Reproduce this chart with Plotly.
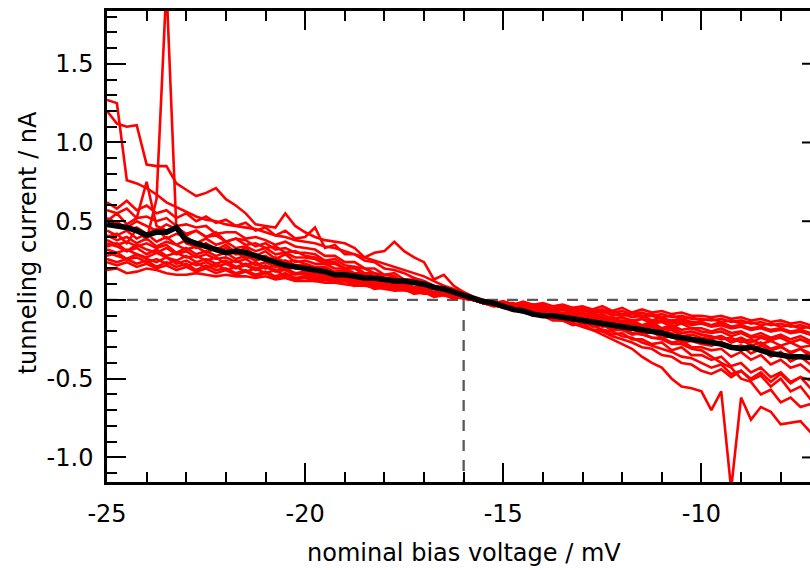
import plotly.graph_objects as go

# ---------------- data ----------------
X = [-25.0, -24.75, -24.5, -24.25, -24.0, -23.75, -23.5, -23.25, -23.0, -22.75,
     -22.5, -22.25, -22.0, -21.75, -21.5, -21.25, -21.0, -20.75, -20.5, -20.25,
     -20.0, -19.75, -19.5, -19.25, -19.0, -18.75, -18.5, -18.25, -18.0, -17.75,
     -17.5, -17.25, -17.0, -16.75, -16.5, -16.25, -16.0, -15.75, -15.5, -15.25,
     -15.0, -14.75, -14.5, -14.25, -14.0, -13.75, -13.5, -13.25, -13.0, -12.75,
     -12.5, -12.25, -12.0, -11.75, -11.5, -11.25, -11.0, -10.75, -10.5, -10.25,
     -10.0, -9.75, -9.5, -9.25, -9.0, -8.75, -8.5, -8.25, -8.0, -7.75,
     -7.5, -7.25, -7.0]

CURVE_A = [1.27, 1.25, 0.76, 0.74, 0.71, 0.67, 0.62, 0.59, 0.56, 0.53, 0.51, 0.50, 0.48, 0.47, 0.46, 0.45, 0.43, 0.41, 0.40, 0.38, 0.37,
           0.36, 0.34, 0.33, 0.31, 0.29, 0.27, 0.25, 0.23, 0.21, 0.19, 0.17, 0.15, 0.12, 0.09, 0.07, 0.05, 0.02,
           0.00, -0.01, -0.02, -0.02, -0.04, -0.03, -0.05, -0.04, -0.06, -0.05, -0.07, -0.06, -0.08, -0.07, -0.09, -0.08, -0.10, -0.09, -0.11, -0.10, -0.12, -0.11, -0.13,
           -0.12, -0.14, -0.13, -0.15, -0.14, -0.16, -0.15, -0.17, -0.16, -0.18, -0.17, -0.18]
CURVE_B = [1.20, 1.12, 1.10, 1.11, 0.86, 0.85, 0.85, 0.74, 0.70, 0.66, 0.68, 0.71, 0.64, 0.60, 0.55, 0.48, 0.47, 0.46, 0.55, 0.47, 0.43,
           0.40, 0.38, 0.37, 0.36, 0.33, 0.27, 0.30, 0.31, 0.37, 0.31, 0.27, 0.24, 0.13, 0.16, 0.09, 0.05, 0.02,
           -0.01, -0.03, -0.04, -0.06, -0.05, -0.08, -0.07, -0.09, -0.08, -0.10, -0.09, -0.11, -0.10, -0.12, -0.11, -0.13, -0.12, -0.14, -0.13, -0.15, -0.14, -0.16, -0.15,
           -0.17, -0.16, -0.18, -0.17, -0.19, -0.18, -0.20, -0.19, -0.21, -0.20, -0.22, -0.21]
CURVE_C = [0.62, 0.58, 0.63, 0.57, 0.60, 0.55, 0.57, 0.52, 0.55, 0.50, 0.53, 0.49, 0.51, 0.47, 0.49, 0.44, 0.46, 0.41, 0.44, 0.39, 0.40,
           0.46, 0.33, 0.35, 0.29, 0.29, 0.25, 0.24, 0.20, 0.19, 0.17, 0.14, 0.12, 0.09, 0.07, 0.05, 0.02, 0.00,
           -0.01, -0.02, -0.01, -0.03, -0.02, -0.04, -0.03, -0.05, -0.04, -0.06, -0.05, -0.07, -0.06, -0.08, -0.07, -0.09, -0.08, -0.10, -0.09, -0.11, -0.10, -0.12, -0.12,
           -0.13, -0.12, -0.14, -0.13, -0.15, -0.14, -0.16, -0.15, -0.17, -0.16, -0.18, -0.18]
CURVE_D = [0.57, 0.55, 0.58, 0.52, 0.53, 0.50, 0.52, 0.47, 0.48, 0.46, 0.47, 0.42, 0.43, 0.43, 0.39, 0.40, 0.38, 0.35, 0.37, 0.34, 0.33,
           0.32, 0.28, 0.28, 0.24, 0.24, 0.20, 0.20, 0.16, 0.17, 0.13, 0.13, 0.09, 0.09, 0.05, 0.05, 0.01, 0.00,
           -0.01, -0.03, -0.01, -0.03, -0.04, -0.03, -0.05, -0.04, -0.06, -0.07, -0.06, -0.08, -0.07, -0.09, -0.10, -0.09, -0.11, -0.10, -0.12, -0.13, -0.12, -0.14, -0.14,
           -0.16, -0.14, -0.17, -0.16, -0.19, -0.17, -0.20, -0.18, -0.21, -0.20, -0.22, -0.22]
CURVE_E = [0.52, 0.49, 0.46, 0.50, 0.47, 0.44, 0.48, 0.45, 0.41, 0.44, 0.40, 0.43, 0.37, 0.39, 0.38, 0.34, 0.36, 0.32, 0.33, 0.30, 0.30,
           0.29, 0.25, 0.26, 0.22, 0.21, 0.20, 0.17, 0.16, 0.15, 0.11, 0.12, 0.08, 0.07, 0.06, 0.03, 0.02, 0.00,
           -0.02, -0.01, -0.04, -0.03, -0.06, -0.05, -0.08, -0.06, -0.09, -0.11, -0.09, -0.12, -0.11, -0.14, -0.13, -0.15, -0.17, -0.15, -0.19, -0.17, -0.21, -0.20, -0.22,
           -0.23, -0.25, -0.24, -0.27, -0.25, -0.28, -0.26, -0.29, -0.27, -0.30, -0.29, -0.30]
CURVE_F = [0.47, 0.50, 0.44, 0.46, 0.42, 0.45, 0.39, 0.42, 0.40, 0.36, 0.39, 0.35, 0.37, 0.33, 0.34, 0.31, 0.33, 0.29, 0.30, 0.27, 0.27,
           0.26, 0.23, 0.23, 0.20, 0.20, 0.16, 0.17, 0.13, 0.14, 0.10, 0.11, 0.07, 0.07, 0.04, 0.04, 0.01, 0.00,
           0.00, -0.02, -0.01, -0.03, -0.01, -0.03, -0.02, -0.04, -0.03, -0.05, -0.04, -0.06, -0.04, -0.07, -0.05, -0.08, -0.06, -0.08, -0.07, -0.09, -0.08, -0.10, -0.10,
           -0.11, -0.10, -0.12, -0.11, -0.13, -0.12, -0.14, -0.13, -0.15, -0.14, -0.16, -0.16]
CURVE_G = [0.44, 0.41, 0.44, 0.39, 0.42, 0.37, 0.40, 0.35, 0.38, 0.33, 0.36, 0.32, 0.35, 0.30, 0.33, 0.28, 0.31, 0.26, 0.29, 0.24, 0.25,
           0.23, 0.23, 0.20, 0.20, 0.17, 0.17, 0.14, 0.14, 0.11, 0.11, 0.08, 0.08, 0.05, 0.05, 0.02, 0.02, 0.00,
           -0.02, -0.03, -0.03, -0.06, -0.06, -0.09, -0.08, -0.11, -0.11, -0.14, -0.13, -0.17, -0.16, -0.19, -0.19, -0.22, -0.21, -0.24, -0.24, -0.27, -0.26, -0.30, -0.30,
           -0.32, -0.31, -0.36, -0.33, -0.38, -0.35, -0.41, -0.38, -0.43, -0.41, -0.46, -0.45]
CURVE_H = [0.41, 0.38, 0.40, 0.36, 0.39, 0.34, 0.37, 0.35, 0.32, 0.34, 0.30, 0.33, 0.29, 0.31, 0.26, 0.29, 0.25, 0.27, 0.24, 0.25, 0.23,
           0.21, 0.21, 0.18, 0.19, 0.15, 0.16, 0.13, 0.13, 0.10, 0.11, 0.07, 0.08, 0.04, 0.05, 0.02, 0.02, 0.00,
           -0.01, -0.03, -0.02, -0.04, -0.03, -0.06, -0.05, -0.07, -0.06, -0.09, -0.08, -0.10, -0.09, -0.12, -0.11, -0.14, -0.12, -0.15, -0.14, -0.17, -0.15, -0.18, -0.18,
           -0.20, -0.18, -0.21, -0.20, -0.23, -0.21, -0.24, -0.22, -0.25, -0.23, -0.26, -0.25]
CURVE_I = [0.38, 0.35, 0.37, 0.34, 0.36, 0.33, 0.35, 0.30, 0.33, 0.29, 0.31, 0.28, 0.30, 0.26, 0.28, 0.25, 0.27, 0.23, 0.25, 0.22, 0.22,
           0.20, 0.20, 0.17, 0.18, 0.15, 0.15, 0.12, 0.13, 0.09, 0.10, 0.07, 0.07, 0.04, 0.05, 0.02, 0.02, 0.00,
           -0.02, -0.04, -0.04, -0.07, -0.07, -0.10, -0.10, -0.13, -0.13, -0.16, -0.15, -0.19, -0.19, -0.22, -0.21, -0.25, -0.25, -0.28, -0.27, -0.32, -0.30, -0.35, -0.35,
           -0.38, -0.36, -0.42, -0.40, -0.46, -0.43, -0.49, -0.46, -0.52, -0.49, -0.56, -0.55]
CURVE_J = [0.36, 0.34, 0.31, 0.35, 0.32, 0.30, 0.33, 0.29, 0.31, 0.27, 0.29, 0.26, 0.27, 0.24, 0.26, 0.22, 0.24, 0.21, 0.23, 0.20, 0.20,
           0.18, 0.18, 0.15, 0.16, 0.13, 0.14, 0.11, 0.12, 0.08, 0.09, 0.06, 0.07, 0.04, 0.05, 0.01, 0.02, 0.00,
           -0.01, -0.03, -0.02, -0.04, -0.05, -0.04, -0.07, -0.06, -0.09, -0.08, -0.11, -0.09, -0.12, -0.11, -0.14, -0.13, -0.16, -0.14, -0.18, -0.16, -0.19, -0.18, -0.20,
           -0.21, -0.20, -0.23, -0.21, -0.24, -0.23, -0.25, -0.24, -0.27, -0.25, -0.28, -0.28]
CURVE_K = [0.34, 0.36, 0.31, 0.33, 0.29, 0.32, 0.28, 0.30, 0.27, 0.28, 0.25, 0.27, 0.23, 0.25, 0.22, 0.24, 0.20, 0.22, 0.19, 0.21, 0.19,
           0.17, 0.18, 0.15, 0.16, 0.12, 0.13, 0.10, 0.11, 0.08, 0.09, 0.06, 0.07, 0.03, 0.04, 0.01, 0.02, 0.00,
           -0.02, -0.01, -0.04, -0.04, -0.07, -0.06, -0.09, -0.08, -0.11, -0.10, -0.13, -0.12, -0.16, -0.15, -0.18, -0.17, -0.20, -0.19, -0.22, -0.21, -0.25, -0.24, -0.26,
           -0.28, -0.27, -0.31, -0.29, -0.34, -0.31, -0.36, -0.33, -0.39, -0.36, -0.41, -0.40]
CURVE_L = [0.32, 0.30, 0.32, 0.29, 0.27, 0.30, 0.27, 0.25, 0.28, 0.24, 0.26, 0.23, 0.25, 0.21, 0.23, 0.20, 0.22, 0.19, 0.20, 0.17, 0.18,
           0.16, 0.17, 0.14, 0.15, 0.12, 0.13, 0.10, 0.11, 0.07, 0.08, 0.05, 0.06, 0.03, 0.04, 0.01, 0.02, 0.00,
           0.00, -0.02, -0.01, -0.04, -0.02, -0.05, -0.04, -0.06, -0.05, -0.08, -0.06, -0.09, -0.07, -0.10, -0.09, -0.11, -0.10, -0.13, -0.11, -0.14, -0.13, -0.15, -0.15,
           -0.16, -0.15, -0.17, -0.16, -0.18, -0.17, -0.19, -0.18, -0.20, -0.19, -0.21, -0.21]
CURVE_M = [0.30, 0.28, 0.26, 0.29, 0.26, 0.24, 0.27, 0.23, 0.25, 0.22, 0.24, 0.21, 0.23, 0.20, 0.22, 0.19, 0.21, 0.18, 0.19, 0.16, 0.17,
           0.15, 0.16, 0.13, 0.14, 0.11, 0.12, 0.09, 0.10, 0.07, 0.08, 0.05, 0.06, 0.03, 0.04, 0.02, 0.01, 0.00,
           -0.02, -0.03, -0.04, -0.06, -0.06, -0.08, -0.09, -0.10, -0.12, -0.12, -0.15, -0.16, -0.19, -0.20, -0.23, -0.24, -0.27, -0.29, -0.31, -0.33, -0.36, -0.37, -0.40,
           -0.43, -0.41, -0.47, -0.45, -0.51, -0.48, -0.55, -0.50, -0.58, -0.55, -0.63, -0.62]
CURVE_N = [0.28, 0.30, 0.26, 0.27, 0.24, 0.26, 0.23, 0.25, 0.21, 0.24, 0.20, 0.23, 0.19, 0.21, 0.18, 0.20, 0.17, 0.19, 0.15, 0.17, 0.16,
           0.14, 0.15, 0.12, 0.13, 0.10, 0.11, 0.08, 0.09, 0.07, 0.08, 0.05, 0.06, 0.03, 0.04, 0.01, 0.02, 0.00,
           -0.02, -0.01, -0.05, -0.04, -0.07, -0.06, -0.10, -0.08, -0.12, -0.11, -0.14, -0.13, -0.17, -0.15, -0.19, -0.18, -0.22, -0.20, -0.24, -0.23, -0.27, -0.26, -0.28,
           -0.29, -0.27, -0.30, -0.29, -0.31, -0.29, -0.32, -0.30, -0.33, -0.31, -0.34, -0.33]
CURVE_O = [0.26, 0.24, 0.26, 0.23, 0.25, 0.21, 0.24, 0.21, 0.23, 0.19, 0.22, 0.19, 0.20, 0.17, 0.19, 0.16, 0.18, 0.15, 0.17, 0.14, 0.15,
           0.13, 0.14, 0.11, 0.12, 0.10, 0.11, 0.08, 0.09, 0.06, 0.07, 0.04, 0.05, 0.03, 0.04, 0.01, 0.02, 0.00,
           -0.02, -0.03, -0.05, -0.06, -0.08, -0.09, -0.10, -0.12, -0.13, -0.15, -0.17, -0.19, -0.20, -0.23, -0.25, -0.27, -0.30, -0.31, -0.35, -0.36, -0.40, -0.41, -0.45,
           -0.47, -0.44, -0.49, -0.45, -0.50, -0.46, -0.52, -0.47, -0.53, -0.49, -0.51, -0.50]
CURVE_P = [0.24, 0.22, 0.24, 0.21, 0.23, 0.20, 0.22, 0.19, 0.21, 0.18, 0.20, 0.17, 0.19, 0.16, 0.18, 0.15, 0.17, 0.14, 0.16, 0.13, 0.14,
           0.12, 0.13, 0.11, 0.12, 0.09, 0.10, 0.07, 0.08, 0.06, 0.07, 0.04, 0.05, 0.02, 0.03, 0.01, 0.02, 0.00,
           -0.01, -0.03, -0.02, -0.05, -0.04, -0.07, -0.06, -0.09, -0.08, -0.10, -0.11, -0.10, -0.13, -0.12, -0.15, -0.14, -0.17, -0.16, -0.19, -0.18, -0.21, -0.20, -0.22,
           -0.24, -0.23, -0.27, -0.25, -0.29, -0.27, -0.31, -0.29, -0.34, -0.31, -0.36, -0.36]
CURVE_Q = [0.19, 0.20, 0.17, 0.18, 0.20, 0.19, 0.17, 0.16, 0.16, 0.17, 0.16, 0.15, 0.16, 0.15, 0.15, 0.14, 0.15, 0.13, 0.14, 0.12, 0.12,
           0.12, 0.11, 0.11, 0.10, 0.09, 0.09, 0.08, 0.07, 0.06, 0.06, 0.05, 0.04, 0.04, 0.03, 0.02, 0.01, 0.00,
           -0.02, -0.03, -0.05, -0.06, -0.07, -0.09, -0.10, -0.12, -0.13, -0.15, -0.17, -0.19, -0.22, -0.25, -0.28, -0.31, -0.36, -0.40, -0.43, -0.50, -0.55, -0.56, -0.58,
           -0.70, -0.58, -1.20, -0.62, -0.76, -0.68, -0.71, -0.79, -0.78, -0.77, -0.84, -0.86]
CURVE_S1 = [0.40, 0.42, 0.36, 0.45, 0.38, 0.64, 2.00, 0.45, 0.36, 0.34, 0.35, 0.31, 0.33, 0.29, 0.30, 0.27, 0.28, 0.24, 0.25, 0.22, 0.21,
            0.19, 0.20, 0.16, 0.17, 0.14, 0.15, 0.11, 0.12, 0.09, 0.10, 0.06, 0.07, 0.04, 0.05, 0.02, 0.02, 0.00,
            -0.02, -0.01, -0.04, -0.03, -0.06, -0.05, -0.08, -0.07, -0.10, -0.09, -0.12, -0.11, -0.15, -0.13, -0.17, -0.15, -0.19, -0.17, -0.21, -0.19, -0.23, -0.22, -0.24,
            -0.25, -0.23, -0.26, -0.24, -0.27, -0.24, -0.26, -0.23, -0.27, -0.25, -0.27, -0.26]
CURVE_S2 = [0.50, 0.55, 0.48, 0.52, 0.75, 0.47, 0.44, 0.46, 0.42, 0.44, 0.40, 0.41, 0.37, 0.39, 0.35, 0.36, 0.33, 0.34, 0.30, 0.31, 0.28,
            0.27, 0.24, 0.24, 0.20, 0.21, 0.17, 0.17, 0.14, 0.14, 0.11, 0.11, 0.07, 0.08, 0.04, 0.04, 0.01, 0.00,
            -0.02, -0.04, -0.03, -0.06, -0.05, -0.08, -0.08, -0.10, -0.10, -0.13, -0.12, -0.15, -0.15, -0.18, -0.18, -0.21, -0.22, -0.24, -0.25, -0.28, -0.28, -0.31, -0.32,
            -0.36, -0.40, -0.43, -0.50, -0.52, -0.60, -0.57, -0.65, -0.62, -0.68, -0.66, -0.70]

MEAN_CURVE = [0.48, 0.47, 0.46, 0.44, 0.41, 0.43, 0.43, 0.46, 0.38, 0.36, 0.34, 0.32, 0.30, 0.31, 0.30, 0.28, 0.26, 0.24, 0.22, 0.21, 0.20,
              0.19, 0.18, 0.16, 0.16, 0.15, 0.14, 0.14, 0.13, 0.12, 0.12, 0.11, 0.10, 0.08, 0.07, 0.05, 0.03, 0.01,
              -0.01, -0.02, -0.04, -0.06, -0.07, -0.09, -0.10, -0.10, -0.11, -0.12, -0.13, -0.14, -0.15, -0.16, -0.17, -0.18, -0.19, -0.20, -0.21, -0.23, -0.24, -0.25, -0.26,
              -0.27, -0.28, -0.30, -0.31, -0.30, -0.32, -0.34, -0.35, -0.36, -0.36, -0.37, -0.37]

RED_CURVES = [CURVE_A, CURVE_B, CURVE_C, CURVE_D, CURVE_E, CURVE_F, CURVE_G, CURVE_H, CURVE_I,
              CURVE_J, CURVE_K, CURVE_L, CURVE_M, CURVE_N, CURVE_O, CURVE_P, CURVE_Q, CURVE_S1, CURVE_S2]

X_TICK_VALUES = [-25, -20, -15, -10]
X_TICK_LABELS = ["-25", "-20", "-15", "-10"]
Y_TICK_VALUES = [-1.0, -0.5, 0.0, 0.5, 1.0, 1.5]
Y_TICK_LABELS = ["-1.0", "-0.5", "0.0", "0.5", "1.0", "1.5"]

ZERO_LEVEL = 0.0
BIAS_MARK = -16.0

X_RANGE = [-25.0, -7.26]
Y_RANGE = [-1.156, 1.835]

for c in RED_CURVES + [MEAN_CURVE]:
    assert len(c) == len(X), len(c)

# ---------------- figure ----------------
FONT = "DejaVu Sans"
fig = go.Figure()

for c in RED_CURVES:
    fig.add_trace(go.Scatter(x=X, y=c, mode="lines",
                             line=dict(color="#ff0000", width=2.6),
                             showlegend=False, hoverinfo="skip"))

fig.add_trace(go.Scatter(x=X, y=MEAN_CURVE, mode="lines",
                         line=dict(color="#000000", width=5.5),
                         showlegend=False, hoverinfo="skip"))

dash_style = dict(color="#595959", width=2.3, dash="11px,9px")
fig.add_shape(type="line", xref="x", yref="y", x0=X_RANGE[0], x1=X[-1],
              y0=ZERO_LEVEL, y1=ZERO_LEVEL, line=dash_style, layer="below")
fig.add_shape(type="line", xref="x", yref="y", x0=BIAS_MARK, x1=BIAS_MARK,
              y0=ZERO_LEVEL, y1=Y_RANGE[0], line=dash_style, layer="below")

# right-hand axis lies just beyond the visible window: only tick stubs show
for yv in Y_TICK_VALUES:
    fig.add_shape(type="line", xref="paper", yref="y", x0=0.9886, x1=1.02,
                  y0=yv, y1=yv, line=dict(color="black", width=2))

fig.add_annotation(text="tunneling current / nA", xref="paper", yref="paper",
                   x=-0.113, y=0.508, textangle=-90, showarrow=False,
                   xanchor="center", yanchor="middle",
                   font=dict(family=FONT, size=24, color="black"))
fig.add_annotation(text="nominal bias voltage / mV", xref="paper", yref="paper",
                   x=0.508, y=-0.151, showarrow=False,
                   xanchor="center", yanchor="middle",
                   font=dict(family=FONT, size=24, color="black"))

axis_common = dict(showgrid=False, zeroline=False, showline=True, linecolor="black",
                   linewidth=2.5, ticks="inside", ticklen=19, tickwidth=2,
                   tickcolor="black", tickfont=dict(family=FONT, size=24, color="black"))

fig.update_xaxes(range=X_RANGE, tickmode="array", tickvals=X_TICK_VALUES,
                 ticktext=X_TICK_LABELS, mirror="ticks", ticklabelstandoff=8,
                 minor=dict(ticks="inside", ticklen=10, tickwidth=2, tickcolor="black",
                            tickmode="linear", tick0=-25, dtick=1),
                 **axis_common)
fig.update_yaxes(range=Y_RANGE, tickmode="array", tickvals=Y_TICK_VALUES,
                 ticktext=Y_TICK_LABELS, mirror=False, ticklabelstandoff=6,
                 minor=dict(ticks="inside", ticklen=10, tickwidth=2, tickcolor="black",
                            tickmode="linear", tick0=0, dtick=0.1),
                 **axis_common)

fig.update_layout(width=810, height=570, autosize=False,
                  margin=dict(l=107, r=0, t=11, b=88, pad=0),
                  plot_bgcolor="white", paper_bgcolor="white",
                  font=dict(family=FONT, size=24, color="black"))

fig.write_html("out.html", include_plotlyjs=True, config={"displayModeBar": False})
